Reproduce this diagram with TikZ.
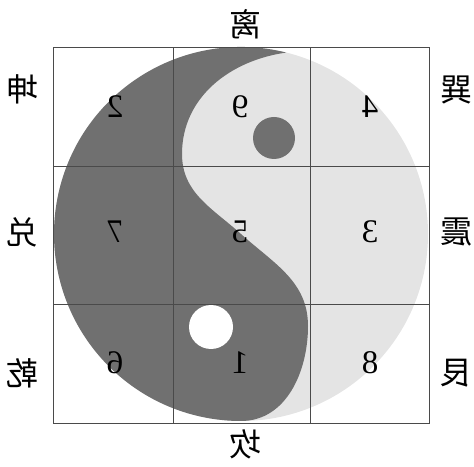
\documentclass[tikz,border=0pt]{standalone}
\usepackage{fontspec}
\setmainfont{Liberation Serif}
\newfontfamily\cjk{Noto Sans CJK SC}
\usetikzlibrary{calc}
\definecolor{yin}{HTML}{707070}
\definecolor{yang}{HTML}{E4E4E4}
\definecolor{gridline}{HTML}{4A4A4A}
\tikzset{
  num/.style={xscale=-1, font=\fontsize{33}{33}\selectfont},
  gua/.style={xscale=-1, font=\cjk\fontsize{32}{32}\selectfont},
  cell/.style={draw=gridline, line width=0.8pt}
}
\begin{document}
\begin{tikzpicture}[x=1pt,y=1pt]
\useasboundingbox (0,0) rectangle (474,466);
\coordinate (C) at (241,232);
% the yang side
\fill[yang] (C) circle (187);
% the yin side
\fill[yin] ($(C)+(76:187)$) arc[start angle=76, end angle=270, radius=187]
  to[out=0, in=-90] (308,140)
  to[out=90, in=-42] (C)
  to[out=138, in=-90] (182,312)
  to[out=90, in=188] ($(C)+(76:187)$);
\fill[yin] (274,328) circle (21);
\fill[white] (211,139) circle (22);
% grid of nine cells
\draw[cell] (53,43) rectangle (429,419);
\draw[cell] (173,43) -- (173,419) (310,43) -- (310,419);
\draw[cell] (53,300) -- (429,300) (53,162) -- (429,162);
% numbers
\node[num] (n2) at (115,359) {2};
\node[num] (n9) at (240,359) {9};
\node[num] (n4) at (370,359) {4};
\node[num] (n7) at (115,234) {7};
\node[num] (n5) at (240,234) {5};
\node[num] (n3) at (370,234) {3};
\node[num] (n6) at (115,103) {6};
\node[num] (n1) at (240,103) {1};
\node[num] (n8) at (370,103) {8};
% trigrams round the square
\node[gua] (li) at (245,442) {离};
\node[gua] (kan) at (245,22) {坎};
\node[gua] (kun) at (22,377) {坤};
\node[gua] (dui) at (22,234) {兑};
\node[gua] (qian) at (22,93) {乾};
\node[gua] (xun) at (456,376) {巽};
\node[gua] (zhen) at (456,234) {震};
\node[gua] (gen) at (456,93) {艮};
\end{tikzpicture}
\end{document}
